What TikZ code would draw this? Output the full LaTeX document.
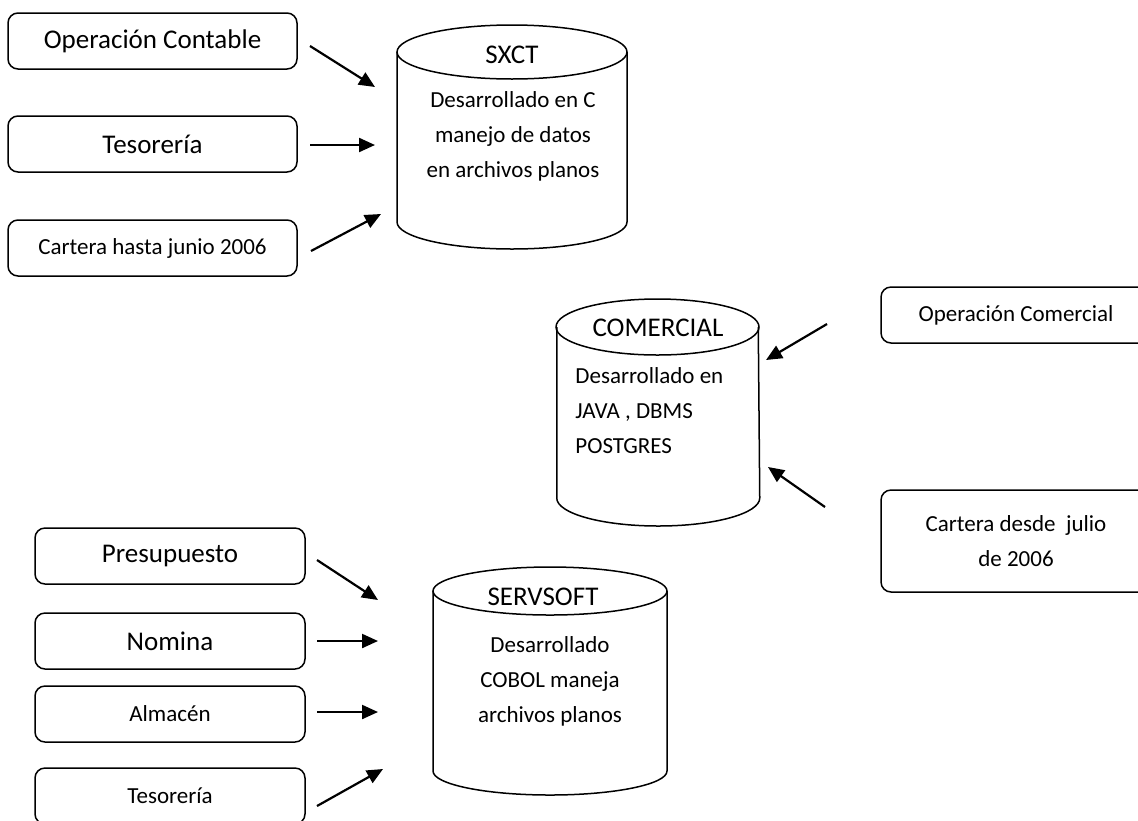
\documentclass[tikz,border=0pt]{standalone}
\usepackage{fontspec}
\setmainfont{Carlito}
\usetikzlibrary{arrows.meta}

\newcommand\bigtxt{\fontsize{13.5}{16}\selectfont}
\newcommand\smalltxt{\fontsize{11.5}{17.5}\selectfont}

\tikzset{
	box/.style={draw, rounded corners=5pt, line width=0.75pt, minimum height=28pt, inner sep=0pt},
	dbline/.style={line width=0.75pt},
	flow/.style={line width=1.1pt, -{Triangle[length=8pt,width=7pt]}}
}

\begin{document}
\begin{tikzpicture}[x=0.5pt, y=-0.5pt]
	\useasboundingbox (0,0) rectangle (1138,820);

	% cylinders
	\draw[dbline] (397,52) -- (397,222) arc[start angle=180, end angle=360, x radius=57.5pt, y radius=13.5pt] -- (627,52);
	\draw[dbline] (512,52) ellipse[x radius=57.5pt, y radius=13.5pt];
	\draw[dbline] (556.75,327) -- (556.75,498) arc[start angle=180, end angle=360, x radius=50.75pt, y radius=14pt] -- (758.25,327);
	\draw[dbline] (657.5,327) ellipse[x radius=50.75pt, y radius=14pt];
	\draw[dbline] (433,591) -- (433,771) arc[start angle=180, end angle=360, x radius=58.5pt, y radius=12pt] -- (667,591);
	\draw[dbline] (550,591) ellipse[x radius=58.5pt, y radius=12pt];

	\node[font=\bigtxt] (sxct) at (512,55) {SXCT};
	\node[font=\smalltxt, align=center] (sxct-txt) at (513,136) {Desarrollado en C\\manejo de datos\\en archivos planos};
	\node[font=\bigtxt] (comercial) at (658,328) {COMERCIAL};
	\node[font=\smalltxt, align=left, anchor=west, inner sep=0pt] (comercial-txt) at (575,411) {Desarrollado en\\JAVA , DBMS\\POSTGRES};
	\node[font=\bigtxt] (servsoft) at (543,597) {SERVSOFT};
	\node[font=\smalltxt, align=center] (servsoft-txt) at (550,681) {Desarrollado\\COBOL maneja\\archivos planos};

	% inputs
	\node[box, minimum width=144.5pt, font=\bigtxt] (opcont) at (152.5,41) {Operación Contable};
	\node[box, minimum width=144.5pt, font=\bigtxt] (teso1) at (152.5,144) {Tesorería};
	\node[box, minimum width=144.5pt, font=\smalltxt] (cartera1) at (152.5,248) {Cartera hasta junio 2006};

	\node[box, minimum width=135pt, font=\smalltxt] (opcom) at (1016,315) {Operación Comercial};
	\node[box, minimum width=135pt, minimum height=51pt, font=\smalltxt, align=center] (cartera2) at (1016,541) {Cartera desde~ julio\\de 2006};

	\node[box, minimum width=135pt, font=\bigtxt] (presu) at (170,556) {Presupuesto};
	\node[box, minimum width=135pt, font=\bigtxt] (nomina) at (170,641) {Nomina};
	\node[box, minimum width=135pt, font=\smalltxt] (almacen) at (170,714) {Almacén};
	\node[box, minimum width=135pt, font=\smalltxt] (teso2) at (170,796) {Tesorería};

	% arrow ends
	\coordinate (opcont-o) at (310,46);   \coordinate (sxct-i1) at (375,87);
	\coordinate (teso1-o) at (310,145);   \coordinate (sxct-i2) at (375,145);
	\coordinate (cartera1-o) at (311,251); \coordinate (sxct-i3) at (381,214);
	\coordinate (opcom-o) at (827,324);   \coordinate (comercial-i1) at (766,360);
	\coordinate (cartera2-o) at (825,507); \coordinate (comercial-i2) at (768,467);
	\coordinate (presu-o) at (317,560);   \coordinate (servsoft-i1) at (378,600);
	\coordinate (nomina-o) at (317,641);  \coordinate (servsoft-i2) at (378,641);
	\coordinate (almacen-o) at (317,712); \coordinate (servsoft-i3) at (378,712);
	\coordinate (teso2-o) at (317,806);   \coordinate (servsoft-i4) at (383,769);

	\draw[flow] (opcont-o) -- (sxct-i1);
	\draw[flow] (teso1-o) -- (sxct-i2);
	\draw[flow] (cartera1-o) -- (sxct-i3);
	\draw[flow] (opcom-o) -- (comercial-i1);
	\draw[flow] (cartera2-o) -- (comercial-i2);
	\draw[flow] (presu-o) -- (servsoft-i1);
	\draw[flow] (nomina-o) -- (servsoft-i2);
	\draw[flow] (almacen-o) -- (servsoft-i3);
	\draw[flow] (teso2-o) -- (servsoft-i4);
\end{tikzpicture}
\end{document}
